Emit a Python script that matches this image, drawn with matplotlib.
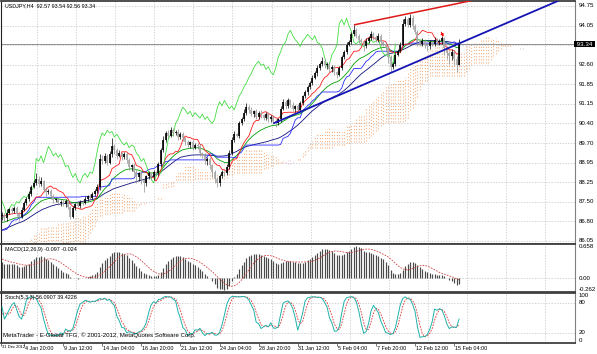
import numpy as np
import pandas as pd
import matplotlib
matplotlib.use("Agg")
import matplotlib.pyplot as plt
from matplotlib.transforms import blended_transform_factory as btf

plt.rcParams["font.family"] = ["Liberation Sans", "DejaVu Sans"]

# ---------------- data ----------------
hist_close = [84.20, 84.35, 84.10, 84.25, 84.40, 84.30, 84.15, 84.05, 84.20, 84.35,
              84.50, 84.45, 84.30, 84.20, 84.10, 84.25, 84.40, 84.60, 84.80, 85.00,
              85.20, 85.10, 85.30, 85.45, 85.40, 85.60, 85.75, 85.55, 85.70, 85.85,
              85.95, 85.80, 85.65, 85.90, 86.10, 86.00, 85.90, 85.75, 85.95, 86.20,
              86.40, 86.30, 86.55, 86.45, 86.70, 86.60, 86.50, 86.80, 86.65, 86.95,
              87.10, 86.90, 87.00, 87.15, 86.95, 87.05, 86.85, 86.95, 87.10, 86.98]

close = [87.02, 86.88, 87.10, 87.22, 87.15, 87.28, 87.05, 86.95, 87.20, 87.45,
         87.60, 87.80, 88.05, 88.20, 88.35, 88.15, 88.25, 87.95, 87.85, 87.90,
         87.70, 87.55, 87.60, 87.45, 87.50, 87.40, 87.52, 87.30, 86.95, 87.25,
         87.40, 87.35, 87.50, 87.45, 87.60, 87.70, 87.65, 87.80, 87.90, 88.05,
         89.10, 89.00, 89.20, 88.95, 89.25, 89.55, 89.40, 89.20, 89.30, 89.15,
         89.25, 89.05, 88.80, 88.85, 88.60, 88.40, 88.55, 88.30, 88.20, 88.45,
         88.55, 88.40, 88.60, 88.55, 88.90, 89.40, 89.80, 90.05, 89.95, 90.15,
         90.05, 90.10, 89.90, 90.00, 89.85, 89.70, 89.60, 89.70, 89.50, 89.60,
         89.55, 89.30, 89.20, 89.00, 89.10, 88.85, 88.60, 88.35, 88.20, 88.45,
         88.60, 88.55, 88.80, 89.30, 89.80, 90.00, 89.95, 90.40, 90.55, 90.80,
         91.00, 90.90, 90.75, 90.85, 90.65, 90.80, 90.70, 90.60, 90.75, 90.55,
         90.65, 90.50, 90.40, 90.55, 90.95, 91.20, 91.05, 91.25, 91.10, 90.95,
         91.05, 90.90, 91.15, 91.40, 91.55, 91.75, 91.90, 92.10, 92.25, 92.45,
         92.60, 92.70, 92.55, 92.60, 92.40, 92.50, 92.30, 92.20, 92.45, 92.85,
         93.05, 93.30, 93.40, 93.70, 93.85, 93.65, 93.50, 93.40, 93.25, 93.45,
         93.55, 93.70, 93.60, 93.50, 93.65, 93.40, 93.35, 93.20, 92.85, 92.50,
         92.60, 92.95, 93.10, 93.30, 94.10, 94.25, 94.05, 94.30, 94.00, 93.80,
         93.40, 93.35, 93.45, 93.30, 93.25, 93.40, 93.35, 93.50, 93.40, 93.45,
         93.55, 93.20, 93.00, 92.90, 93.05, 92.80, 92.57, 93.34]

upper_wick = [.10, .08, .12, .06, .10, .08, .05, .07, .10, .08,
              .06, .10, .08, .12, .20, .10, .15, .06, .10, .08,
              .07, .10, .05, .08, .06, .10, .07, .05, .06, .10,
              .05, .08, .06, .07, .10, .05, .08, .06, .07, .10,
              .15, .12, .10, .08, .12, .30, .10, .08, .12, .06,
              .08, .10, .07, .06, .10, .08, .07, .10, .06, .05,
              .08, .06, .07, .05, .08, .10, .12, .08, .10, .10,
              .08, .06, .10, .07, .08, .06, .10, .05, .08, .07,
              .06, .08, .05, .10, .07, .05, .06, .08, .05, .07,
              .06, .05, .08, .10, .08, .12, .06, .10, .08, .12,
              .15, .08, .10, .06, .08, .07, .10, .05, .08, .06,
              .07, .05, .08, .06, .10, .12, .07, .10, .06, .08,
              .05, .07, .08, .06, .10, .08, .07, .10, .08, .10,
              .08, .15, .10, .06, .08, .07, .05, .06, .08, .10,
              .08, .12, .10, .08, .20, .10, .07, .08, .06, .10,
              .08, .12, .07, .06, .10, .08, .05, .06, .07, .08,
              .06, .08, .07, .10, .15, .12, .08, .15, .10, .07,
              .06, .08, .10, .07, .06, .08, .07, .10, .06, .08,
              .10, .07, .06, .08, .10, .06, .08, .20]

lower_wick = [.15, .10, .08, .06, .10, .05, .08, .15, .06, .05,
              .08, .06, .07, .05, .08, .10, .06, .08, .12, .07,
              .08, .10, .06, .07, .10, .05, .08, .06, .10, .06,
              .07, .05, .08, .06, .05, .07, .06, .05, .08, .06,
              .10, .12, .08, .10, .06, .08, .12, .10, .06, .10,
              .08, .10, .12, .15, .10, .20, .12, .15, .35, .10,
              .12, .08, .10, .06, .08, .10, .06, .08, .10, .07,
              .10, .08, .12, .06, .10, .08, .07, .10, .08, .06,
              .10, .12, .08, .10, .15, .12, .20, .15, .15, .10,
              .08, .10, .06, .08, .07, .10, .06, .08, .06, .07,
              .08, .10, .06, .10, .08, .07, .10, .08, .06, .10,
              .08, .10, .12, .06, .08, .07, .10, .06, .08, .10,
              .12, .08, .06, .07, .05, .08, .06, .07, .05, .08,
              .06, .08, .10, .12, .08, .10, .12, .10, .06, .08,
              .06, .08, .05, .07, .06, .10, .12, .08, .15, .06,
              .08, .06, .10, .07, .08, .12, .10, .15, .20, .20,
              .10, .08, .06, .07, .05, .10, .08, .06, .12, .10,
              .15, .08, .10, .12, .15, .08, .10, .07, .08, .10,
              .12, .25, .20, .30, .15, .25, .27, .01]

date_labels = ["31 Dec 2012", "4 Jan 20:00", "9 Jan 12:00", "14 Jan 04:00",
               "16 Jan 20:00", "21 Jan 12:00", "24 Jan 04:00", "28 Jan 20:00",
               "31 Jan 12:00", "5 Feb 04:00", "7 Feb 20:00", "12 Feb 12:00",
               "15 Feb 04:00"]
date_label_bars = [-0.4, 9, 25, 41, 57, 73, 89, 105, 121, 137, 153, 169, 185]

price_levels = [86.05, 86.775, 87.50, 88.225, 88.95, 89.675, 90.40, 91.125,
                91.85, 92.575, 93.30, 94.025, 94.75]
price_labels = ["86.05", "86.80", "87.50", "88.25", "88.95", "89.70", "90.40",
                "91.15", "91.85", "92.60", "", "94.05", "94.75"]
bid_price = 93.34
title_text = "USDJPY,H4  92.57 93.54 92.56 93.34"
macd_text = "MACD(12,26,9) -0.097 -0.024"
stoch_text = "Stoch(5,3,3) 56.0907 39.4226"
copyright_text = "MetaTrader - E-Global TFG, \u00a9 2001-2012, MetaQuotes Software Corp."
macd_labels = ["0.658", "0.00", "-0.262"]
macd_label_vals = [0.658, 0.0, -0.262]
stoch_labels = ["100", "80", "20", "0"]
stoch_label_vals = [100, 80, 20, 0]

red_trend = [(144, 94.05), (167, 94.48)]     # (bar, price) anchor points
blue_trend = [(111, 90.40), (159, 92.27)]
arrow_bar, arrow_price = 180, 93.72

assert len(close) == len(upper_wick) == len(lower_wick)

# ---------------- computations ----------------
c = np.array(close)
o = np.r_[hist_close[-1], c[:-1]]
hi = np.maximum(o, c) + np.array(upper_wick)
lo = np.minimum(o, c) - np.array(lower_wick)
n = len(c)
nh = len(hist_close)
x = np.arange(n)
ext = np.arange(n + 26)

H = pd.Series(np.r_[hist_close, hi])
Lw = pd.Series(np.r_[hist_close, lo])
C = pd.Series(np.r_[hist_close, c])

tenkan = (H.rolling(9, 1).max() + Lw.rolling(9, 1).min()) / 2
kijun = (H.rolling(26, 1).max() + Lw.rolling(26, 1).min()) / 2
spanA = ((tenkan + kijun) / 2).values
spanB = ((H.rolling(52, 1).max() + Lw.rolling(52, 1).min()) / 2).values
src = ext + nh - 26
sA = spanA[src]
sB = spanB[src]

ma_green = C.ewm(span=21, adjust=False).mean().values[nh:]
ma_navy = C.rolling(34, 1).mean().values[nh:]

macd_full = C.ewm(span=12, adjust=False).mean() - C.ewm(span=26, adjust=False).mean()
sig_full = macd_full.rolling(9, 1).mean()
macd = macd_full.values[nh:]
sig = sig_full.values[nh:]

ll = Lw.rolling(5, 1).min()
hh = H.rolling(5, 1).max()
num = (C - ll).rolling(3, 1).sum()
den = (hh - ll).rolling(3, 1).sum().replace(0, np.nan)
K = (100 * num / den).fillna(50)
D = K.rolling(3, 1).mean()
Kv = K.values[nh:]
Dv = D.values[nh:]

# ---------------- figure ----------------
W, Hh = 597, 354
fig = plt.figure(figsize=(W / 100, Hh / 100), dpi=100)
fig.patch.set_facecolor("white")
left = 1 / W
width = 574 / W
ax1 = fig.add_axes([left, 1 - 244 / Hh, width, 243 / Hh])
ax2 = fig.add_axes([left, 1 - 292 / Hh, width, 48 / Hh])
ax3 = fig.add_axes([left, 1 - 343 / Hh, width, 50 / Hh])

px_per_bar = 2.444
xlim = ((1 - 2) / px_per_bar, (575 - 2) / px_per_bar)
grid_bars = [14.3 + 16 * k for k in range(14)]
grid_kw = dict(color="#c4c4c4", lw=0.5, ls=(0, (2, 2)), zorder=0.5)
FS = 4.4
FS_T = 3.9
FS_D = 3.9

for ax in (ax1, ax2, ax3):
    ax.set_xlim(*xlim)
    ax.set_facecolor("white")
    ax.set_xticks([])
    ax.set_yticks([])
    for gb in grid_bars:
        ax.axvline(gb, **grid_kw)
    for sp in ("top", "bottom"):
        ax.spines[sp].set_color("#404040")
        ax.spines[sp].set_linewidth(1.3)
    ax.spines["left"].set_color("#202020")
    ax.spines["left"].set_linewidth(0.8)
    ax.spines["right"].set_color("#808080")
    ax.spines["right"].set_linewidth(0.8)

# ---- price panel ----
ax1.set_ylim(85.935, 94.935)
for lv in price_levels:
    ax1.axhline(lv, **grid_kw)
tr1 = btf(ax1.transAxes, ax1.transData)
for lv, lab in zip(price_levels, price_labels):
    if lab:
        ax1.text(1.007, lv, lab, transform=tr1, fontsize=FS, va="center",
                 ha="left", color="black", clip_on=False)

# cloud
up = sA >= sB
ax1.vlines(ext[up], sB[up], sA[up], colors="#f19a5c", lw=0.8,
           linestyles=(0, (1, 1.8)), zorder=1, alpha=0.75)
ax1.vlines(ext[~up], sA[~up], sB[~up], colors="#d8bfd8", lw=0.8,
           linestyles=(0, (1, 1.8)), zorder=1, alpha=0.9)

# moving averages and ichimoku lines
ax1.plot(x, ma_navy, color="#101080", lw=0.6, zorder=2)
ax1.plot(x, ma_green, color="#00a000", lw=0.6, zorder=2)
ax1.plot(x, kijun.values[nh:], color="#2a2aff", lw=0.6, zorder=2.1)
ax1.plot(x, tenkan.values[nh:], color="#ff1a1a", lw=0.6, zorder=2.1)
ax1.plot(x[:-26], c[26:], color="#44dd44", lw=0.6, zorder=2.1)

# bid line
ax1.axhline(bid_price, color="#909090", lw=0.7, zorder=1.5)

# candles
bull = c >= o
bear = ~bull
ax1.vlines(x[bear], lo[bear], hi[bear], color="#8c8c8c", lw=0.5, zorder=3)
ax1.vlines(x[bear], c[bear], o[bear], color="#a8a8a8", lw=1.2, zorder=3)
ax1.vlines(x[bull], lo[bull], hi[bull], color="black", lw=0.5, zorder=3.1)
ax1.vlines(x[bull], o[bull], c[bull], color="black", lw=1.2, zorder=3.1)


# trend lines (rays)
def ray(ax, pts, **kw):
    (b0, p0), (b1, p1) = pts
    slope = (p1 - p0) / (b1 - b0)
    xe = xlim[1] + 5
    ax.plot([b0, xe], [p0, p0 + slope * (xe - b0)], **kw)


ray(ax1, red_trend, color="#e01818", lw=1.1, zorder=4, solid_capstyle="butt")
ray(ax1, blue_trend, color="#1414b4", lw=1.3, zorder=4, solid_capstyle="butt")

ax1.annotate("", xy=(arrow_bar + 1.2, arrow_price - 0.2),
             xytext=(arrow_bar - 0.8, arrow_price + 0.15),
             arrowprops=dict(arrowstyle="-|>", color="red", lw=0.7,
                             mutation_scale=4), zorder=5)

ax1.text(4 / 574, 0.979, title_text, transform=ax1.transAxes, fontsize=FS_T,
         va="center", ha="left", color="black")
ax1.text(1.0, bid_price, " " + f"{bid_price:.2f}" + " ", transform=tr1,
         fontsize=FS, va="center", ha="left", color="white", clip_on=False,
         bbox=dict(boxstyle="square,pad=0.15", fc="black", ec="black", lw=0))

# ---- MACD panel ----
ax2.set_ylim(-0.262, 0.658)
ax2.axhline(0, **grid_kw)
ax2.vlines(x, 0, macd, color="#4a4a4a", lw=0.85, zorder=2)
ax2.plot(x, sig, color="#d04040", lw=0.6, ls=(0, (2, 1.5)), zorder=3)
tr2 = btf(ax2.transAxes, ax2.transData)
for v, lab, va in zip(macd_label_vals, macd_labels, ["top", "center", "bottom"]):
    ax2.text(1.007, v, lab, transform=tr2, fontsize=FS, va=va, ha="left",
             clip_on=False)
ax2.text(4 / 574, 0.89, macd_text, transform=ax2.transAxes, fontsize=FS_T,
         va="center", ha="left")

# ---- Stochastic panel ----
ax3.set_ylim(0, 100)
ax3.axhline(80, **grid_kw)
ax3.axhline(20, **grid_kw)
ax3.plot(x, Kv, color="#20b2aa", lw=0.7, zorder=3)
ax3.plot(x, Dv, color="#e03030", lw=0.6, ls=(0, (2, 1.5)), zorder=2.5)
tr3 = btf(ax3.transAxes, ax3.transData)
for v, lab, va in zip(stoch_label_vals, stoch_labels,
                      ["top", "center", "center", "bottom"]):
    ax3.text(1.007, v, lab, transform=tr3, fontsize=FS, va=va, ha="left",
             clip_on=False)
ax3.text(4 / 574, 0.9, stoch_text, transform=ax3.transAxes, fontsize=FS_T,
         va="center", ha="left")
ax3.text(2 / 574, 0.16, copyright_text, transform=ax3.transAxes, fontsize=FS,
         va="center", ha="left", color="black")

# date axis
ax3.set_xticks(date_label_bars)
ax3.set_xticklabels([])
ax3.tick_params(axis="x", length=2, width=0.5, color="#404040", direction="out")
tr3x = btf(ax3.transData, ax3.transAxes)
for i, (b, lab) in enumerate(zip(date_label_bars, date_labels)):
    ax3.text(b + 0.3, -0.05, lab, transform=tr3x,
             fontsize=(3.0 if i == 0 else FS_D), va="top",
             ha="left", clip_on=False)

fig.savefig("out.png", dpi=100, facecolor="white")
